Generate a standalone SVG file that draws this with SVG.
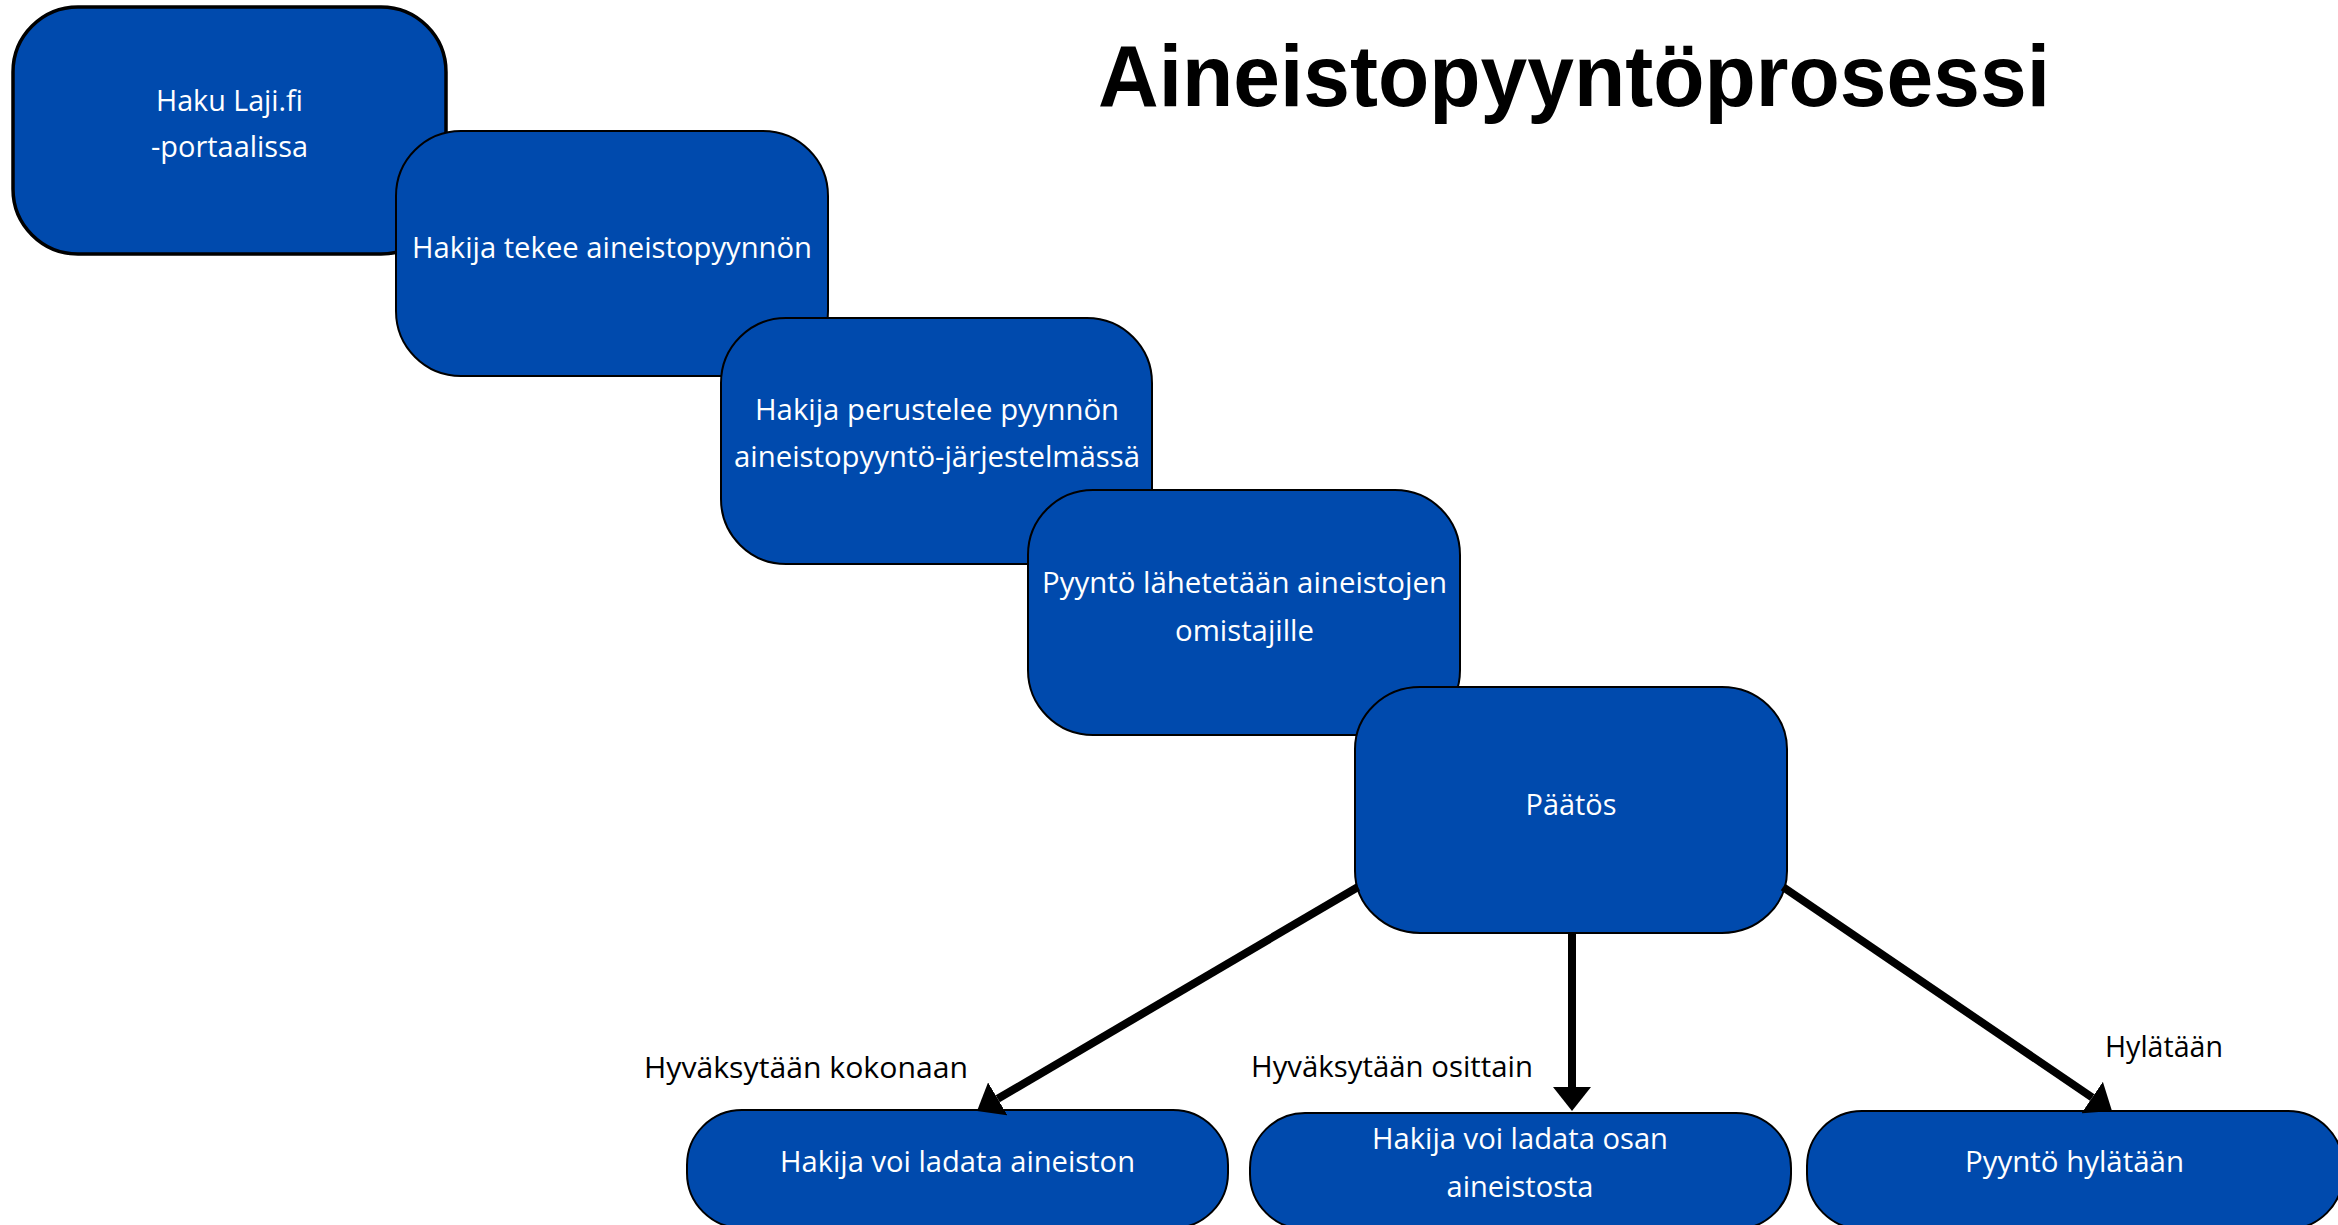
<svg xmlns="http://www.w3.org/2000/svg" width="2338" height="1225" viewBox="0 0 2338 1225">
<style>
.box{fill:#004aad;stroke:#000;stroke-width:2}
.box1{stroke-width:3.5}
.t{font-family:"Open Sans","Noto Sans","Liberation Sans",sans-serif;font-size:29.5px;fill:#fff;text-anchor:middle}
.lbl{font-family:"Open Sans","Noto Sans","Liberation Sans",sans-serif;font-size:29.5px;fill:#000}
.title{font-family:"Liberation Sans",Arial,sans-serif;font-weight:bold;font-size:88px;fill:#000}
.conn{stroke:#000;stroke-width:8;fill:none}
</style>
<defs>
<marker id="arr" markerUnits="userSpaceOnUse" viewBox="0 -19 24 38" markerWidth="24" markerHeight="38" refX="0" refY="0" orient="auto">
<path d="M0,-19 L24,0 L0,19 Z" fill="#000"/>
</marker>
</defs>
<rect width="2338" height="1225" fill="#fff"/>
<text class="title" x="1098" y="106" textLength="952" lengthAdjust="spacingAndGlyphs">Aineistopyyntöprosessi</text>
<g id="node-haku">
<rect class="box box1" x="13" y="7" width="433" height="247" rx="65" ry="65"/>
<text class="t" x="229.5" y="111" textLength="147" lengthAdjust="spacingAndGlyphs">Haku Laji.fi</text>
<text class="t" x="229.5" y="157" textLength="157" lengthAdjust="spacingAndGlyphs">-portaalissa</text>
</g>
<g id="node-tekee">
<rect class="box" x="396" y="131" width="432" height="245" rx="65" ry="65"/>
<text class="t" x="612" y="258" textLength="400" lengthAdjust="spacingAndGlyphs">Hakija tekee aineistopyynnön</text>
</g>
<g id="node-perustelee">
<rect class="box" x="721" y="318" width="431" height="246" rx="65" ry="65"/>
<text class="t" x="937" y="420" textLength="364" lengthAdjust="spacingAndGlyphs">Hakija perustelee pyynnön</text>
<text class="t" x="937" y="467" textLength="406" lengthAdjust="spacingAndGlyphs">aineistopyyntö-järjestelmässä</text>
</g>
<g id="node-lahetetaan">
<rect class="box" x="1028" y="490" width="432" height="245" rx="65" ry="65"/>
<text class="t" x="1244.5" y="593" textLength="405" lengthAdjust="spacingAndGlyphs">Pyyntö lähetetään aineistojen</text>
<text class="t" x="1244.5" y="641" textLength="139" lengthAdjust="spacingAndGlyphs">omistajille</text>
</g>
<g id="node-paatos">
<rect class="box" x="1355" y="687" width="432" height="246" rx="65" ry="62"/>
<text class="t" x="1571" y="815" textLength="91" lengthAdjust="spacingAndGlyphs">Päätös</text>
</g>
<g id="node-kokonaan">
<rect class="box" x="687" y="1110" width="541" height="118" rx="55" ry="55"/>
<text class="t" x="957.5" y="1172" textLength="355" lengthAdjust="spacingAndGlyphs">Hakija voi ladata aineiston</text>
</g>
<g id="node-osittain">
<rect class="box" x="1250" y="1113" width="541" height="116" rx="55" ry="55"/>
<text class="t" x="1520" y="1149" textLength="296" lengthAdjust="spacingAndGlyphs">Hakija voi ladata osan</text>
<text class="t" x="1520" y="1197" textLength="147" lengthAdjust="spacingAndGlyphs">aineistosta</text>
</g>
<g id="node-hylataan">
<rect class="box" x="1807" y="1111" width="536" height="118" rx="55" ry="55"/>
<text class="t" x="2074.5" y="1172" textLength="219" lengthAdjust="spacingAndGlyphs">Pyyntö hylätään</text>
</g>
<g id="connectors">
<line class="conn" x1="1358" y1="887" x2="997.7" y2="1098.8" marker-end="url(#arr)"/>
<line class="conn" x1="1572" y1="933" x2="1572" y2="1087" marker-end="url(#arr)"/>
<line class="conn" x1="1783" y1="887" x2="2092.2" y2="1097.5" marker-end="url(#arr)"/>
<text class="lbl" x="644" y="1078" textLength="324" lengthAdjust="spacingAndGlyphs">Hyväksytään kokonaan</text>
<text class="lbl" x="1251" y="1077" textLength="282" lengthAdjust="spacingAndGlyphs">Hyväksytään osittain</text>
<text class="lbl" x="2105" y="1057" textLength="118" lengthAdjust="spacingAndGlyphs">Hylätään</text>
</g>
</svg>
